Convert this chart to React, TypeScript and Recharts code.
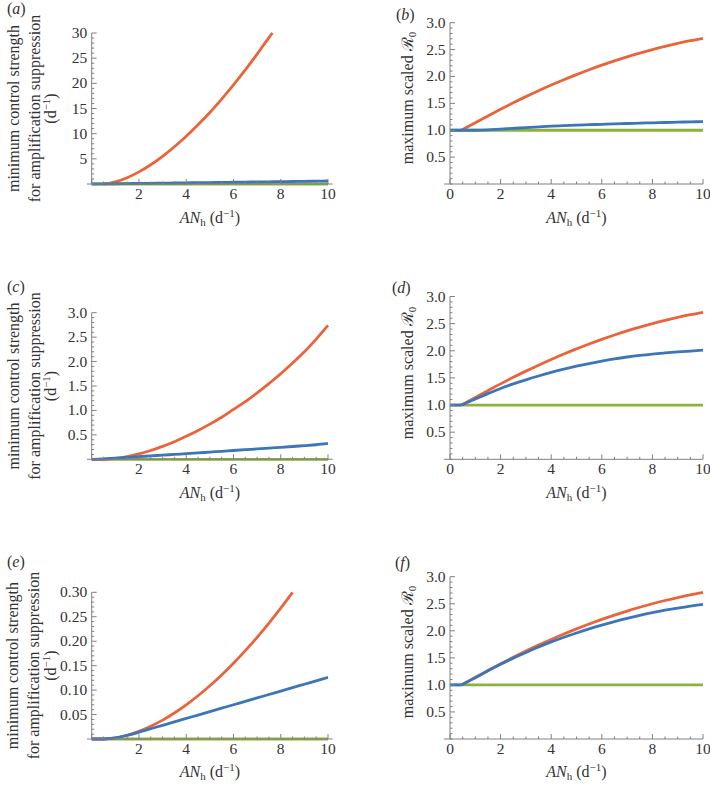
import React from "react";
import { LineChart, Line, XAxis, YAxis, ReferenceLine } from "recharts";

// shared x grid (AN_h, d^-1)
const X = [0, 0.5, 1, 1.5, 2, 2.5, 3, 3.5, 4, 4.5, 5, 5.5, 6, 6.5, 7, 7.5, 8, 8.5, 9, 9.5, 10];

// (a)
const aRedX = [0.5, 0.75, 1, 1.5, 2, 2.5, 3, 3.5, 4, 4.5, 5, 5.5, 6, 6.5, 7, 7.5, 7.65];
const aRed = [0, 0.13, 0.41, 1.25, 2.41, 3.83, 5.5, 7.39, 9.48, 11.76, 14.2, 16.87, 19.7, 22.66, 25.8, 29.07, 30];
const aBlue = [0, 0.02, 0.05, 0.08, 0.11, 0.14, 0.17, 0.2, 0.23, 0.26, 0.29, 0.32, 0.35, 0.38, 0.41, 0.44, 0.47, 0.5, 0.53, 0.57, 0.6];
const leftGreen = [0, 0, 0, 0, 0, 0, 0, 0, 0, 0, 0, 0, 0, 0, 0, 0, 0, 0, 0, 0, 0];

// (c)
const cRed = [0, 0, 0.02, 0.055, 0.11, 0.18, 0.265, 0.36, 0.47, 0.59, 0.72, 0.86, 1.02, 1.18, 1.36, 1.55, 1.75, 1.97, 2.2, 2.46, 2.74];
const cBlue = [0, 0.008, 0.024, 0.04, 0.055, 0.07, 0.085, 0.1, 0.115, 0.13, 0.147, 0.163, 0.18, 0.196, 0.212, 0.228, 0.245, 0.262, 0.28, 0.298, 0.325];

// (e)
const eRedX = [0, 0.5, 1, 1.5, 2, 2.5, 3, 3.5, 4, 4.5, 5, 5.5, 6, 6.5, 7, 7.5, 8, 8.5];
const eRed = [0, 0, 0.0023, 0.0077, 0.0157, 0.026, 0.0386, 0.0532, 0.0699, 0.0884, 0.1088, 0.131, 0.155, 0.1807, 0.208, 0.2371, 0.2678, 0.3];
const eBlue = [0, 0, 0.0023, 0.0075, 0.014, 0.021, 0.028, 0.035, 0.042, 0.049, 0.056, 0.063, 0.07, 0.077, 0.084, 0.091, 0.098, 0.105, 0.112, 0.119, 0.126];

// (b), (d), (f): red and green are the same curve in each panel
const riseX = [0.45, 1, 1.5, 2, 2.5, 3, 3.5, 4, 4.5, 5, 5.5, 6, 6.5, 7, 7.5, 8, 8.5, 9, 9.5, 10];
const rightRed = [1, 1.14, 1.265, 1.39, 1.51, 1.625, 1.735, 1.84, 1.94, 2.035, 2.125, 2.21, 2.29, 2.365, 2.435, 2.5, 2.56, 2.615, 2.665, 2.71];
const rightGreen = [1, 1, 1, 1, 1, 1, 1, 1, 1, 1, 1, 1, 1, 1, 1, 1, 1, 1, 1, 1, 1];
const flatX = [0, 0.45];
const flatBlue = [1, 1];
const bBlue = [1, 1, 1, 1.005, 1.02, 1.035, 1.05, 1.063, 1.075, 1.085, 1.095, 1.103, 1.11, 1.118, 1.125, 1.132, 1.138, 1.144, 1.15, 1.155, 1.16];
const dBlue = [1, 1.11, 1.21, 1.305, 1.39, 1.465, 1.535, 1.6, 1.66, 1.715, 1.765, 1.81, 1.85, 1.885, 1.915, 1.94, 1.96, 1.978, 1.995, 2.01];
const fBlue = [1, 1.13, 1.26, 1.38, 1.495, 1.6, 1.7, 1.795, 1.88, 1.96, 2.035, 2.105, 2.17, 2.23, 2.285, 2.335, 2.38, 2.42, 2.455, 2.49];

// ticks
const xMajor = [0, 2, 4, 6, 8, 10];
const xLabelsLeft = ["", "2", "4", "6", "8", "10"];
const xLabelsRight = ["0", "2", "4", "6", "8", "10"];
const yMajorA = [5, 10, 15, 20, 25, 30];
const yLabelsA = ["5", "10", "15", "20", "25", "30"];
const yMajorR = [0.5, 1, 1.5, 2, 2.5, 3];
const yLabelsR = ["0.5", "1.0", "1.5", "2.0", "2.5", "3.0"];
const yMajorE = [0.05, 0.1, 0.15, 0.2, 0.25, 0.3];
const yLabelsE = ["0.05", "0.10", "0.15", "0.20", "0.25", "0.30"];

const steps = (max: number, step: number) => {
  const out: number[] = [];
  for (let i = 0; i * step <= max + 1e-9; i++) out.push(+(i * step).toFixed(4));
  return out;
};
const xTicks = steps(10, 0.5);

const RED = "#E9643A";
const BLUE = "#3A76B9";
const GREEN = "#8DB23A";
const AXIS = "#808080";
const TXT = "#333";
const FONT = "'Liberation Serif', 'Times New Roman', serif";
const TICK_FS = 15.5;
const TITLE_FS = 16;
const YW = 50;
const XH = 30;

const pts = (xs: number[], ys: number[]) => ys.map((y, i) => ({ x: xs[i], y }));

const findMajor = (majors: number[], v: number) => majors.findIndex((m) => Math.abs(m - v) < 1e-6);

const xTick = (labels: string[]) => (p: any) => {
  const i = findMajor(xMajor, p.payload.value);
  const len = i >= 0 ? 5 : 2.5;
  return (
    <g>
      <line x1={p.x} x2={p.x} y1={p.y} y2={p.y - len} stroke={AXIS} />
      {i >= 0 && labels[i] ? (
        <text x={p.x} y={p.y + 15} textAnchor="middle" fontFamily={FONT} fontSize={TICK_FS} fill={TXT}>
          {labels[i]}
        </text>
      ) : null}
    </g>
  );
};

const yTick = (majors: number[], labels: string[]) => (p: any) => {
  const i = findMajor(majors, p.payload.value);
  const len = i >= 0 ? 5 : 2.5;
  return (
    <g>
      <line x1={p.x} x2={p.x + len} y1={p.y} y2={p.y} stroke={AXIS} />
      {i >= 0 ? (
        <text x={p.x - 4.5} y={p.y + 5} textAnchor="end" fontFamily={FONT} fontSize={TICK_FS} fill={TXT}>
          {labels[i]}
        </text>
      ) : null}
    </g>
  );
};

type PanelProps = {
  box: [number, number, number, number];
  plot: [number, number, number, number];
  yMax: number;
  yTicks: number[];
  yMajor: number[];
  yLabels: string[];
  xLabels: string[];
  extLeft: number;
  extRight: number;
  series: { key: string; data: { x: number; y: number }[]; color: string }[];
};

function Panel({ box, plot, yMax, yTicks, yMajor, yLabels, xLabels, extLeft, extRight, series }: PanelProps) {
  const [bl, bt, bw, bh] = box;
  const [x0, x1, y0, y1] = plot;
  const margin = { left: x0 - bl - YW, right: bl + bw - x1, top: y0 - bt, bottom: bt + bh - y1 - XH };
  return (
    <div style={{ position: "absolute", left: bl, top: bt, width: bw, height: bh }}>
      <LineChart width={bw} height={bh} margin={margin}>
        <XAxis
          type="number"
          dataKey="x"
          domain={[0, 10]}
          ticks={xTicks}
          interval={0}
          tickSize={0}
          tickMargin={0}
          tickLine={false}
          height={XH}
          axisLine={{ stroke: AXIS }}
          tick={xTick(xLabels)}
        />
        <YAxis
          type="number"
          domain={[0, yMax]}
          ticks={yTicks}
          interval={0}
          tickSize={0}
          tickMargin={0}
          tickLine={false}
          width={YW}
          axisLine={{ stroke: AXIS }}
          tick={yTick(yMajor, yLabels)}
        />
        <ReferenceLine segment={[{ x: -extLeft, y: 0 }, { x: 0, y: 0 }]} ifOverflow="visible" stroke={AXIS} />
        {extRight > 0 ? (
          <ReferenceLine segment={[{ x: 10, y: 0 }, { x: 10 + extRight, y: 0 }]} ifOverflow="visible" stroke={AXIS} />
        ) : null}
        {series.map((s) => (
          <Line
            key={s.key}
            data={s.data}
            dataKey="y"
            type="monotone"
            stroke={s.color}
            strokeWidth={2.8}
            dot={false}
            isAnimationActive={false}
          />
        ))}
      </LineChart>
    </div>
  );
}

function XTitle({ cx, y }: { cx: number; y: number }) {
  return (
    <text x={cx} y={y} textAnchor="middle" fontFamily={FONT} fontSize={TITLE_FS} fill={TXT}>
      <tspan fontStyle="italic">AN</tspan>
      <tspan fontSize={11} dy={3}>h</tspan>
      <tspan dy={-3}>{"\u00A0(d"}</tspan>
      <tspan fontSize={11} dy={-6}>{"\u22121"}</tspan>
      <tspan dy={6}>)</tspan>
    </text>
  );
}

function LeftTitle({ cy }: { cy: number }) {
  const common = { textAnchor: "middle" as const, fontFamily: FONT, fontSize: TITLE_FS, fill: TXT };
  return (
    <g>
      <text {...common} x={18.5} y={cy} transform={`rotate(-90 18.5 ${cy})`}>minimum control strength</text>
      <text {...common} x={39.5} y={cy} transform={`rotate(-90 39.5 ${cy})`}>for amplification suppression</text>
      <text {...common} x={56} y={cy} transform={`rotate(-90 56 ${cy})`}>
        <tspan>(d</tspan>
        <tspan fontSize={11} dy={-6}>{"\u22121"}</tspan>
        <tspan dy={6}>)</tspan>
      </text>
    </g>
  );
}

function RightTitle({ cy }: { cy: number }) {
  return (
    <text x={412.5} y={cy} transform={`rotate(-90 412.5 ${cy})`} textAnchor="middle" fontFamily={FONT} fontSize={TITLE_FS} fill={TXT}>
      <tspan>{"maximum scaled\u00A0"}</tspan>
      <tspan>{"\u211B"}</tspan>
      <tspan fontSize={11} dy={3}>0</tspan>
    </text>
  );
}

function PanelLabel({ x, y, letter }: { x: number; y: number; letter: string }) {
  return (
    <text x={x} y={y} fontFamily={FONT} fontSize={TITLE_FS} fill={TXT}>
      <tspan>(</tspan>
      <tspan fontStyle="italic">{letter}</tspan>
      <tspan>)</tspan>
    </text>
  );
}

const LEFT_PLOT = [91.7, 328];
const RIGHT_PLOT = [450, 703];

export default function App() {
  const rightSeries = (blueX: number[], blue: number[], withFlat: boolean) => [
    { key: "green", data: pts(X, rightGreen), color: GREEN },
    { key: "red", data: pts(riseX, rightRed), color: RED },
    ...(withFlat ? [{ key: "blueFlat", data: pts(flatX, flatBlue), color: BLUE }] : []),
    { key: "blue", data: pts(blueX, blue), color: BLUE },
  ];
  return (
    <div style={{ position: "absolute", left: 0, top: 0, width: 710, height: 786, background: "#fff" }}>
      <Panel
        box={[0, 0, 355, 260]}
        plot={[LEFT_PLOT[0], LEFT_PLOT[1], 33, 184]}
        yMax={30}
        yTicks={steps(30, 1)}
        yMajor={yMajorA}
        yLabels={yLabelsA}
        xLabels={xLabelsLeft}
        extLeft={0.2}
        extRight={0.2}
        series={[
          { key: "green", data: pts(X, leftGreen), color: GREEN },
          { key: "red", data: pts(aRedX, aRed), color: RED },
          { key: "blue", data: pts(X, aBlue), color: BLUE },
        ]}
      />
      <Panel
        box={[355, 0, 355, 260]}
        plot={[RIGHT_PLOT[0], RIGHT_PLOT[1], 22.7, 184]}
        yMax={3}
        yTicks={steps(3, 0.1)}
        yMajor={yMajorR}
        yLabels={yLabelsR}
        xLabels={xLabelsRight}
        extLeft={0.24}
        extRight={0}
        series={rightSeries(X, bBlue, false)}
      />
      <Panel
        box={[0, 260, 355, 260]}
        plot={[LEFT_PLOT[0], LEFT_PLOT[1], 312.7, 459.3]}
        yMax={3}
        yTicks={steps(3, 0.1)}
        yMajor={yMajorR}
        yLabels={yLabelsR}
        xLabels={xLabelsLeft}
        extLeft={0.2}
        extRight={0.2}
        series={[
          { key: "green", data: pts(X, leftGreen), color: GREEN },
          { key: "red", data: pts(X, cRed), color: RED },
          { key: "blue", data: pts(X, cBlue), color: BLUE },
        ]}
      />
      <Panel
        box={[355, 260, 355, 260]}
        plot={[RIGHT_PLOT[0], RIGHT_PLOT[1], 296.5, 459.3]}
        yMax={3}
        yTicks={steps(3, 0.1)}
        yMajor={yMajorR}
        yLabels={yLabelsR}
        xLabels={xLabelsRight}
        extLeft={0.24}
        extRight={0}
        series={rightSeries(riseX, dBlue, true)}
      />
      <Panel
        box={[0, 520, 355, 266]}
        plot={[LEFT_PLOT[0], LEFT_PLOT[1], 592.3, 739]}
        yMax={0.3}
        yTicks={steps(0.3, 0.01)}
        yMajor={yMajorE}
        yLabels={yLabelsE}
        xLabels={xLabelsLeft}
        extLeft={0.2}
        extRight={0.2}
        series={[
          { key: "green", data: pts(X, leftGreen), color: GREEN },
          { key: "red", data: pts(eRedX, eRed), color: RED },
          { key: "blue", data: pts(X, eBlue), color: BLUE },
        ]}
      />
      <Panel
        box={[355, 520, 355, 266]}
        plot={[RIGHT_PLOT[0], RIGHT_PLOT[1], 576.7, 739]}
        yMax={3}
        yTicks={steps(3, 0.1)}
        yMajor={yMajorR}
        yLabels={yLabelsR}
        xLabels={xLabelsRight}
        extLeft={0.24}
        extRight={0}
        series={rightSeries(riseX, fBlue, true)}
      />
      <svg width={710} height={786} style={{ position: "absolute", left: 0, top: 0, pointerEvents: "none" }}>
        <PanelLabel x={7} y={14} letter="a" />
        <PanelLabel x={396} y={20} letter="b" />
        <PanelLabel x={7} y={292} letter="c" />
        <PanelLabel x={392} y={293} letter="d" />
        <PanelLabel x={7} y={567} letter="e" />
        <PanelLabel x={395} y={568} letter="f" />
        <LeftTitle cy={108.5} />
        <LeftTitle cy={386} />
        <LeftTitle cy={665.6} />
        <RightTitle cy={98} />
        <RightTitle cy={373} />
        <RightTitle cy={652} />
        <XTitle cx={(LEFT_PLOT[0] + LEFT_PLOT[1]) / 2} y={223} />
        <XTitle cx={(LEFT_PLOT[0] + LEFT_PLOT[1]) / 2} y={498} />
        <XTitle cx={(LEFT_PLOT[0] + LEFT_PLOT[1]) / 2} y={777} />
        <XTitle cx={(RIGHT_PLOT[0] + RIGHT_PLOT[1]) / 2} y={223} />
        <XTitle cx={(RIGHT_PLOT[0] + RIGHT_PLOT[1]) / 2} y={498} />
        <XTitle cx={(RIGHT_PLOT[0] + RIGHT_PLOT[1]) / 2} y={777} />
      </svg>
    </div>
  );
}
